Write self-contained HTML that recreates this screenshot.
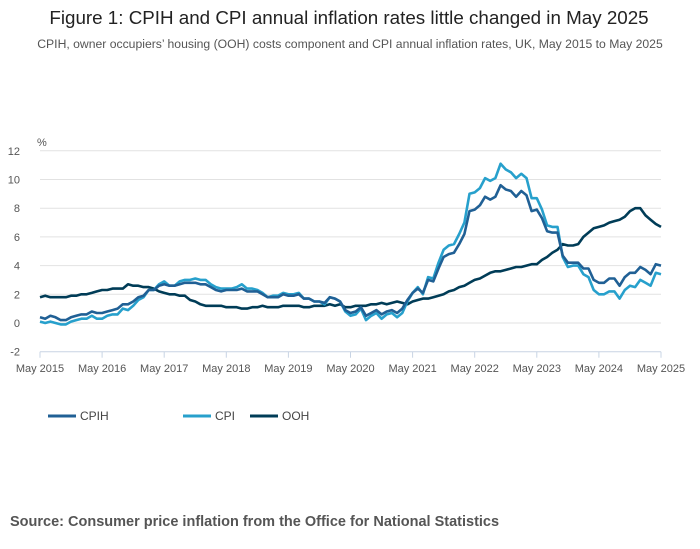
<!DOCTYPE html>
<html><head><meta charset="utf-8">
<style>
body{margin:0;background:#fff;font-family:"Liberation Sans",sans-serif;width:700px;height:549px;overflow:hidden}
svg{display:block}
</style></head>
<body>
<svg width="700" height="549">
<text x="349" y="24" text-anchor="middle" font-size="18.8" fill="#222">Figure 1: CPIH and CPI annual inflation rates little changed in May 2025</text>
<text x="350" y="48" text-anchor="middle" font-size="12.2" fill="#555">CPIH, owner occupiers’ housing (OOH) costs component and CPI annual inflation rates, UK, May 2015 to May 2025</text>
<text x="37" y="146" font-size="11" fill="#555">%</text>
<g id="grid"></g>
<g id="xaxis"></g>
<g id="series"></g>
<g>
<line x1="48" y1="416" x2="76" y2="416" stroke="#206095" stroke-width="3"/>
<text x="80" y="420" font-size="12" fill="#444">CPIH</text>
<line x1="183" y1="416" x2="211" y2="416" stroke="#27a0cc" stroke-width="3"/>
<text x="215" y="420" font-size="12" fill="#444">CPI</text>
<line x1="250" y1="416" x2="278" y2="416" stroke="#003c57" stroke-width="3"/>
<text x="282" y="420" font-size="12" fill="#444">OOH</text>
</g>
<text x="10" y="526" font-size="14.5" font-weight="bold" fill="#555">Source: Consumer price inflation from the Office for National Statistics</text>
</svg>
<script>
const yTicks=[-2,0,2,4,6,8,10,12];
const xTickLabels=["May 2015","May 2016","May 2017","May 2018","May 2019","May 2020","May 2021","May 2022","May 2023","May 2024","May 2025"];
const cpih=[0.4,0.3,0.5,0.4,0.2,0.2,0.4,0.5,
0.6,0.6,0.8,0.7,0.7,0.8,0.9,1.0,1.3,1.3,1.5,1.8,
1.9,2.3,2.3,2.6,2.7,2.6,2.6,2.7,2.8,2.8,2.8,2.7,
2.7,2.5,2.3,2.2,2.3,2.3,2.3,2.4,2.2,2.2,2.2,2.0,
1.8,1.8,1.8,2.0,1.9,1.9,2.0,1.7,1.7,1.5,1.5,1.4,
1.8,1.7,1.5,0.9,0.7,0.8,1.1,0.5,0.7,0.9,0.6,0.8,
0.9,0.7,1.0,1.6,2.1,2.4,2.1,3.0,2.9,3.8,4.6,4.8,
4.9,5.5,6.2,7.8,7.9,8.2,8.8,8.6,8.8,9.6,9.3,9.2,
8.8,9.2,8.9,7.8,7.9,7.3,6.4,6.3,6.3,4.7,4.2,4.2,
4.2,3.8,3.8,3.0,2.8,2.8,3.1,3.1,2.6,3.2,3.5,3.5,
3.9,3.7,3.4,4.1,4.0];
const cpi=[0.1,0.0,0.1,0.0,-0.1,-0.1,0.1,0.2,
0.3,0.3,0.5,0.3,0.3,0.5,0.6,0.6,1.0,0.9,1.2,1.6,
1.8,2.3,2.3,2.7,2.9,2.6,2.6,2.9,3.0,3.0,3.1,3.0,
3.0,2.7,2.5,2.4,2.4,2.4,2.5,2.7,2.4,2.4,2.3,2.1,
1.8,1.9,1.9,2.1,2.0,2.0,2.1,1.7,1.7,1.5,1.5,1.3,
1.8,1.7,1.5,0.8,0.5,0.6,1.0,0.2,0.5,0.7,0.3,0.6,
0.7,0.4,0.7,1.5,2.1,2.5,2.0,3.2,3.1,4.2,5.1,5.4,
5.5,6.2,7.0,9.0,9.1,9.4,10.1,9.9,10.1,11.1,10.7,10.5,
10.1,10.4,10.1,8.7,8.7,7.9,6.8,6.7,6.7,4.6,3.9,4.0,
4.0,3.4,3.2,2.3,2.0,2.0,2.2,2.2,1.7,2.3,2.6,2.5,
3.0,2.8,2.6,3.5,3.4];
const ooh=[1.8,1.9,1.8,1.8,1.8,1.8,1.9,1.9,
2.0,2.0,2.1,2.2,2.3,2.3,2.4,2.4,2.4,2.7,2.6,2.6,
2.5,2.5,2.4,2.2,2.1,2.0,2.0,1.9,1.9,1.6,1.5,1.3,
1.2,1.2,1.2,1.2,1.1,1.1,1.1,1.0,1.0,1.1,1.1,1.2,
1.1,1.1,1.1,1.2,1.2,1.2,1.2,1.1,1.1,1.2,1.2,1.2,
1.3,1.2,1.3,1.1,1.1,1.2,1.2,1.2,1.3,1.3,1.4,1.3,
1.4,1.5,1.4,1.3,1.5,1.6,1.7,1.7,1.8,1.9,2.0,2.2,
2.3,2.5,2.6,2.8,3.0,3.1,3.3,3.5,3.6,3.6,3.7,3.8,
3.9,3.9,4.0,4.1,4.1,4.4,4.6,4.9,5.1,5.5,5.4,5.4,
5.5,6.0,6.3,6.6,6.7,6.8,7.0,7.1,7.2,7.4,7.8,8.0,
8.0,7.5,7.2,6.9,6.7];
const X0=40,X1=661,Y0=323,PPU=14.35;
const n=cpi.length;
const xs=i=>X0+(X1-X0)*i/(n-1);
const ys=v=>Y0-v*PPU;
const NS="http://www.w3.org/2000/svg";
const grid=document.getElementById('grid');
yTicks.forEach(t=>{
 const l=document.createElementNS(NS,'line');
 l.setAttribute('x1',X0);l.setAttribute('x2',X1);
 l.setAttribute('y1',ys(t));l.setAttribute('y2',ys(t));
 l.setAttribute('stroke',t===-2?'#c8d4e4':'#e2e2e2');l.setAttribute('stroke-width','1');
 
 
 grid.appendChild(l);
 const tx=document.createElementNS(NS,'text');
 tx.setAttribute('x',20);tx.setAttribute('y',ys(t)+4);
 tx.setAttribute('text-anchor','end');tx.setAttribute('font-size','11');tx.setAttribute('fill','#555');
 tx.textContent=t;
 
 
 grid.appendChild(tx);
});
const xa=document.getElementById('xaxis');
xTickLabels.forEach((lab,k)=>{
 const x=xs(k*12);
 const l=document.createElementNS(NS,'line');
 l.setAttribute('x1',x);l.setAttribute('x2',x);l.setAttribute('y1',ys(-2));l.setAttribute('y2',ys(-2)+6);
 l.setAttribute('stroke','#c8d4e4');
 
 
 xa.appendChild(l);
 const tx=document.createElementNS(NS,'text');
 tx.setAttribute('x',x);tx.setAttribute('y',372);tx.setAttribute('text-anchor','middle');
 tx.setAttribute('font-size','11');tx.setAttribute('fill','#555');
 tx.textContent=lab;
 
 
 xa.appendChild(tx);
});
const sg=document.getElementById('series');
[[ooh,'#003c57','ooh-line'],[cpi,'#27a0cc','cpi-line'],[cpih,'#206095','cpih-line']].forEach(([d,c,nm])=>{
 const p=document.createElementNS(NS,'path');
 p.setAttribute('d',d.map((v,i)=>(i?'L':'M')+xs(i).toFixed(1)+','+ys(v).toFixed(1)).join(''));
 p.setAttribute('fill','none');p.setAttribute('stroke',c);p.setAttribute('stroke-width','2.6');
 p.setAttribute('stroke-linejoin','round');
 
 
 sg.appendChild(p);
});
</script>
</body></html>
